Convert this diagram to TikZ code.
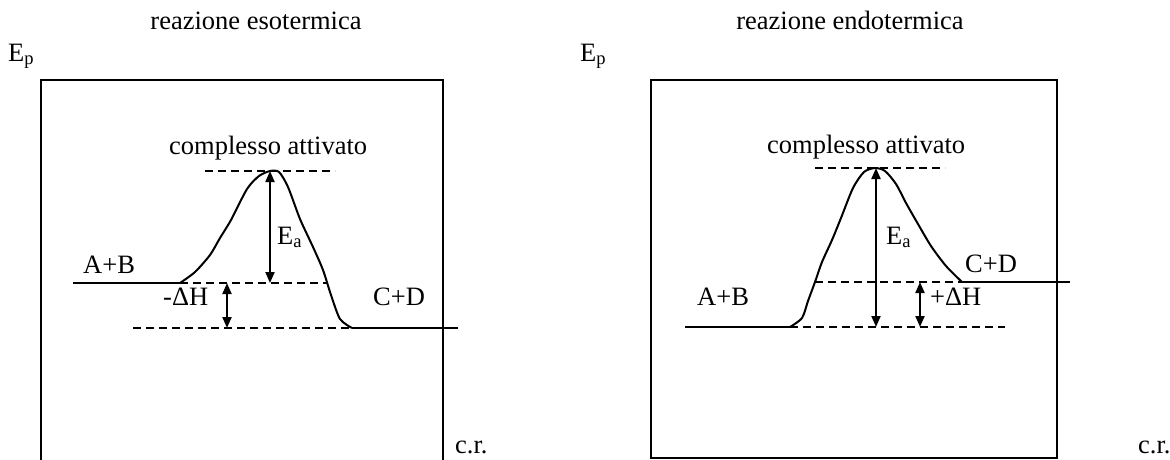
\documentclass[tikz,border=0pt]{standalone}
\usepackage{fontspec}
\setmainfont{Liberation Serif}
\usetikzlibrary{arrows.meta}
\begin{document}
\begin{tikzpicture}[x=1pt,y=-1pt,
 lbl/.style={anchor=base west,inner sep=0pt,font=\fontsize{26.5}{31}\selectfont},
 ttl/.style={anchor=base,inner sep=0pt,font=\fontsize{26.5}{31}\selectfont},
 frame/.style={line width=2pt},
 level/.style={line width=2pt},
 guide/.style={line width=1.6pt,dash pattern=on 8pt off 5pt},
 curve/.style={line width=2pt,line join=round},
 dimtwo/.style={line width=2pt,{Triangle[length=11pt,width=9pt]}-{Triangle[length=11pt,width=9pt]}}]
\useasboundingbox (0,0) rectangle (1170,459);

% ---------------- left panel: exothermic ----------------
\node[ttl] (t1) at (256,29) {reazione esotermica};
\node[lbl] (ep1) at (8,61) {E\textsubscript{p}};
\node[lbl] (cr1) at (455,453) {c.r.};
\coordinate (b1bl) at (41,462);
\coordinate (b1tl) at (41,80);
\coordinate (b1tr) at (443,80);
\coordinate (b1br) at (443,462);
\draw[frame] (b1bl) -- (b1tl) -- (b1tr) -- (b1br);

\node[lbl] (ca1) at (169,154) {complesso attivato};
\coordinate (top1a) at (205,171);
\coordinate (top1b) at (335,171);
\draw[guide] (top1a) -- (top1b);

\coordinate (r1a) at (73,283);
\coordinate (r1b) at (180,283);
\draw[level] (r1a) -- (r1b);
\node[lbl] (ab1) at (83,273) {A+B};
\coordinate (m1b) at (328,283);
\draw[guide] (r1b) -- (m1b);

\coordinate (p1a) at (133,328);
\coordinate (p1b) at (352,328);
\coordinate (p1c) at (458,328);
\draw[guide] (p1a) -- (p1b);
\draw[level] (p1b) -- (p1c);
\node[lbl] (cd1) at (373,305) {C+D};

\draw[curve] plot[smooth,tension=0.45] coordinates {(180,283) (195,272) (210,255) (220,238) (231,220) (247,189) (259,176) (270,171) (279,172) (288,187) (300,219) (313,247) (323,270) (331,295) (340,319) (352,328)};

\coordinate (ea1t) at (270,171);
\coordinate (ea1b) at (270,283);
\draw[dimtwo] (ea1t) -- (ea1b);
\node[lbl] (eal1) at (277,244) {E\textsubscript{a}};

\coordinate (dh1t) at (227,283);
\coordinate (dh1b) at (227,328);
\draw[dimtwo] (dh1t) -- (dh1b);
\node[lbl] (dhl1) at (163,305) {-ΔH};

% ---------------- right panel: endothermic ----------------
\node[ttl] (t2) at (850,29) {reazione endotermica};
\node[lbl] (ep2) at (580,61) {E\textsubscript{p}};
\node[lbl] (cr2) at (1138,453) {c.r.};
\coordinate (b2bl) at (651,458);
\coordinate (b2tr) at (1057,80);
\draw[frame] (b2bl) rectangle (b2tr);

\node[lbl] (ca2) at (767,153) {complesso attivato};
\coordinate (top2a) at (815,168);
\coordinate (top2b) at (945,168);
\draw[guide] (top2a) -- (top2b);

\coordinate (r2a) at (685,327);
\coordinate (r2b) at (790,327);
\draw[level] (r2a) -- (r2b);
\node[lbl] (ab2) at (697,305) {A+B};
\coordinate (m2c) at (1005,327);
\draw[guide] (r2b) -- (m2c);

\coordinate (p2a) at (815,282);
\coordinate (p2b) at (962,282);
\coordinate (p2c) at (1070,282);
\draw[guide] (p2a) -- (p2b);
\draw[level] (p2b) -- (p2c);
\node[lbl] (cd2) at (965,272) {C+D};

\draw[curve] plot[smooth,tension=0.45] coordinates {(790,327) (802,318) (808,301) (815,282) (822,262) (832,240) (841,218) (853,188) (864,172) (875,168) (885,171) (896,184) (906,203) (918,224) (931,246) (946,266) (962,282)};

\coordinate (ea2t) at (876,168);
\coordinate (ea2b) at (876,327);
\draw[dimtwo] (ea2t) -- (ea2b);
\node[lbl] (eal2) at (886,244) {E\textsubscript{a}};

\coordinate (dh2t) at (920,282);
\coordinate (dh2b) at (920,327);
\draw[dimtwo] (dh2t) -- (dh2b);
\node[lbl] (dhl2) at (930,305) {+ΔH};
\end{tikzpicture}
\end{document}
